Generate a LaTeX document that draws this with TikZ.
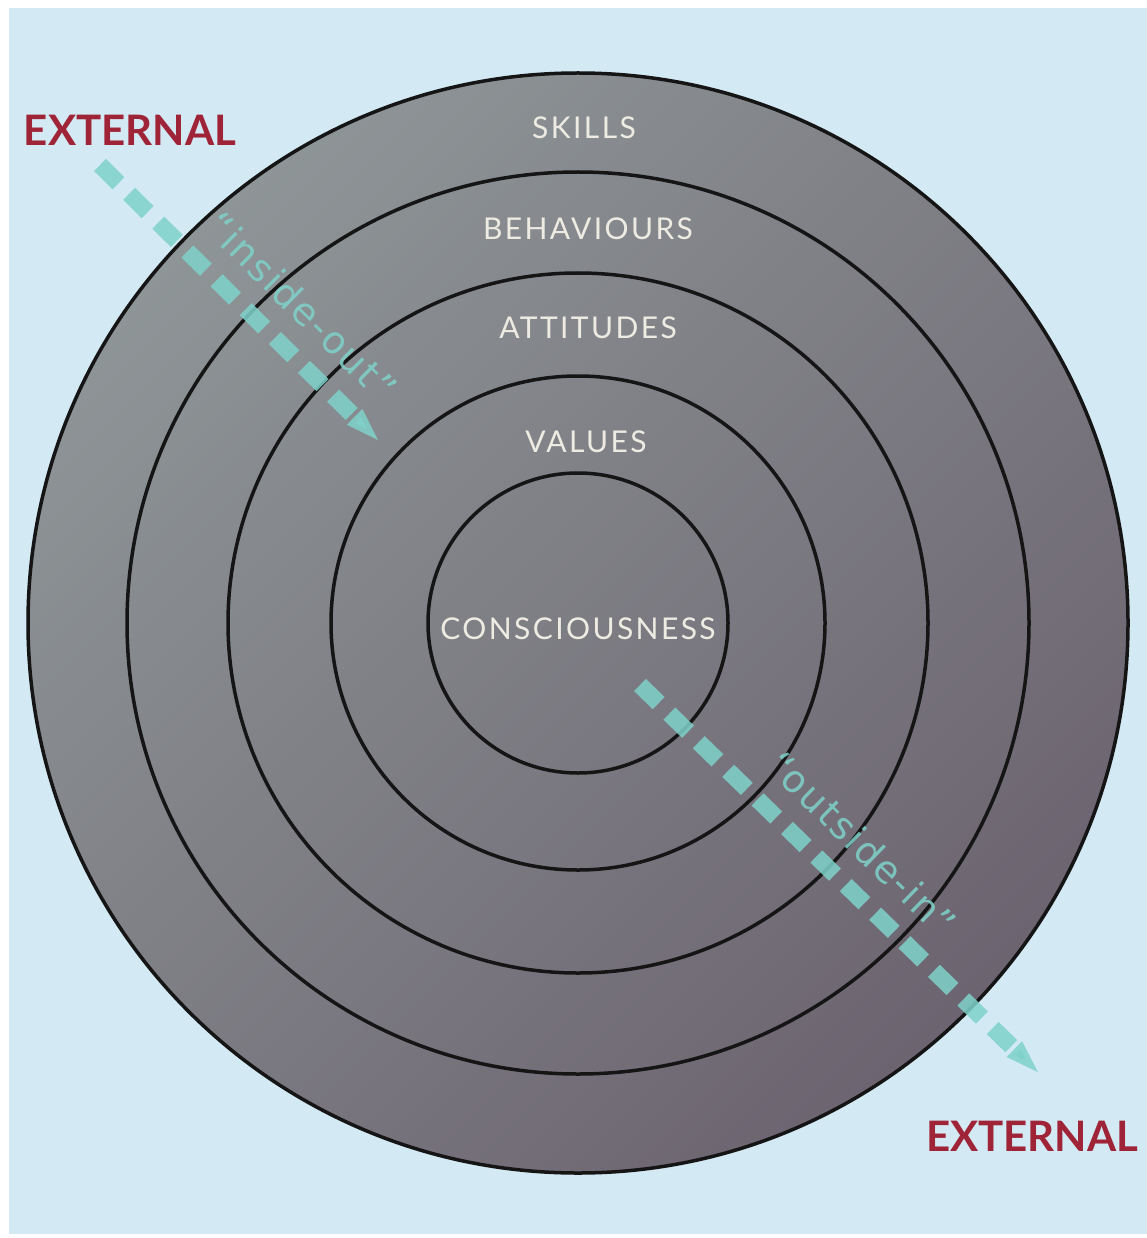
\documentclass[tikz,border=0pt]{standalone}
\usepackage{fontspec}
\setmainfont{Lato}
\newfontfamily\ringfont[LetterSpace=8]{Lato}
\newfontfamily\flowfont[LetterSpace=5]{DejaVu Sans}
\usetikzlibrary{arrows.meta}

\definecolor{paleblue}{HTML}{D3E9F3}
\definecolor{discupper}{HTML}{8E9597}
\definecolor{disclower}{HTML}{6C6470}
\definecolor{ringline}{HTML}{151515}
\definecolor{flowteal}{HTML}{7FD2CA}
\definecolor{labelcream}{HTML}{EEECE2}
\definecolor{extred}{HTML}{A02438}

\begin{document}
\begin{tikzpicture}[x=1pt,y=-1pt,
  ring/.style={circle,draw=ringline,line width=3.5pt,minimum size=#1,inner sep=0pt},
  ringlabel/.style={text=labelcream,font=\ringfont\fontsize{30}{34}\selectfont},
  extlabel/.style={text=extred,font=\bfseries\fontsize{42}{46}\selectfont},
  flow/.style={draw=flowteal,opacity=.85,line width=17pt,
    dash pattern=on 26pt off 15pt,-{Triangle[length=40pt,width=18pt]}},
  flowlabel/.style={text=flowteal,sloped,inner sep=0pt,font=\flowfont\fontsize{38}{42}\selectfont}]
\useasboundingbox (0,0) rectangle (1147,1238);
\fill[white] (0,0) rectangle (1147,1238);
\fill[paleblue] (9,8) rectangle (1147,1234);

% the rings
\coordinate (mid) at (578,623);
\node[ring=1100pt,top color=discupper,bottom color=disclower,shading angle=45] (ring5) at (mid) {};
\foreach \d [count=\i] in {300,494,700,902}
  \node[ring=\d pt] (ring\i) at (mid) {};

% layer names
\node[ringlabel] (skills) at (584,128) {SKILLS};
\node[ringlabel] (behaviours) at (588,229) {BEHAVIOURS};
\node[ringlabel] (attitudes) at (588,328) {ATTITUDES};
\node[ringlabel] (values) at (586,442) {VALUES};
\node[ringlabel] (consciousness) at (578,629) {CONSCIOUSNESS};

\node[extlabel] (ext top) at (130,130) {EXTERNAL};
\node[extlabel] (ext bottom) at (1032,1136) {EXTERNAL};

% the two flows
\coordinate (io start) at (100,165);
\coordinate (io end) at (383,445);
\coordinate (oi start) at (640,685);
\coordinate (oi end) at (1043,1077);
\draw[flow] (io start) -- (io end)
  node[flowlabel,pos=.61,above=18pt] (inside out) {“inside-out”};
\draw[flow] (oi start) -- (oi end)
  node[flowlabel,pos=.48,above=18pt] (outside in) {“outside-in”};
\end{tikzpicture}
\end{document}
